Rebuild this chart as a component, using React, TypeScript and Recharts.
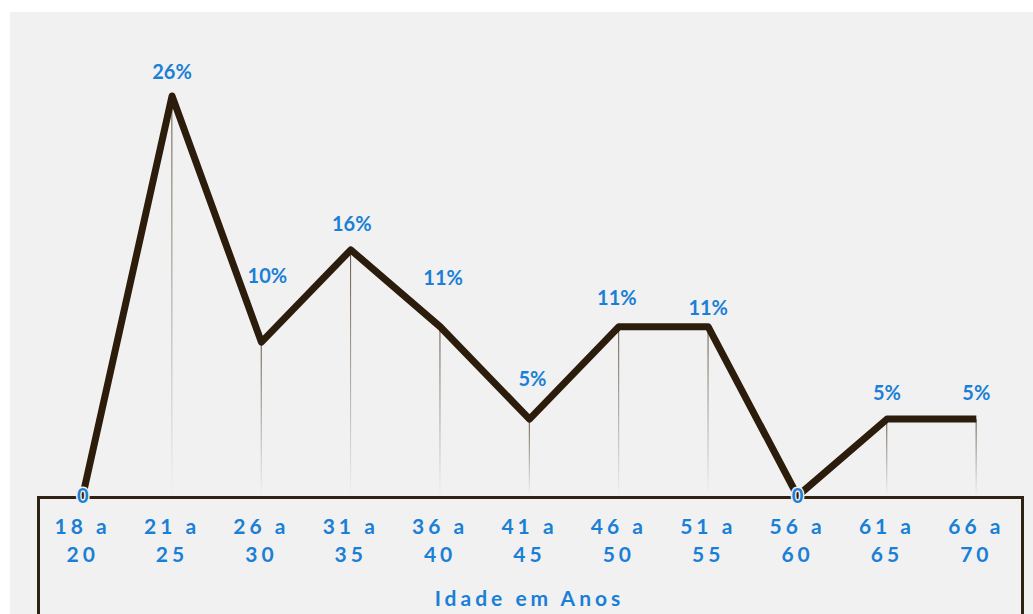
import { ComposedChart, Line, Bar, XAxis, YAxis, LabelList, Label } from "recharts";

// faixas etárias e percentuais
const faixas = ["18 a 20", "21 a 25", "26 a 30", "31 a 35", "36 a 40", "41 a 45", "46 a 50", "51 a 55", "56 a 60", "61 a 65", "66 a 70"];
const percentuais = [0, 26, 10, 16, 11, 5, 11, 11, 0, 5, 5];

// where each label sits relative to its point (px)
const labelLift = [0, 24, 66, 26, 49, 40, 29, 19, 0, 26, 26];
const labelShift = [0, 0, 6, 1, 3, 3, -2, 0, 0, 0, 0];

const BLUE = "#1a7fd6";
const BG = "#f1f1f1";
const FONT = "Lato, 'Open Sans', sans-serif";

const data = faixas.map((faixa, i) => ({ faixa, valor: percentuais[i] }));

function FaixaTick(props: any) {
  const { x, y, payload } = props;
  const [de, ate] = String(payload.value).split(" a ");
  return (
    <g>
      <text x={x} y={y + 38} textAnchor="middle" fill={BLUE} fontSize={21} fontWeight={700} fontFamily={FONT} letterSpacing={4}>
        {de} a
      </text>
      <text x={x} y={y + 66} textAnchor="middle" fill={BLUE} fontSize={21} fontWeight={700} fontFamily={FONT} letterSpacing={4}>
        {ate}
      </text>
    </g>
  );
}

function ValorLabel(props: any) {
  const { x, y, width, value, index } = props;
  const cx = x + (width || 0) / 2 + labelShift[index];
  const txt = value === 0 ? "0" : `${value}%`;
  return (
    <text
      x={cx}
      y={y - labelLift[index]}
      dy={7}
      textAnchor="middle"
      fill={BLUE}
      fontSize={20}
      fontWeight={700}
      fontFamily={FONT}
      stroke={BG}
      strokeWidth={3}
      paintOrder="stroke"
    >
      {txt}
    </text>
  );
}

export default function App() {
  return (
    <div style={{ position: "absolute", left: 10, top: 12, width: 1023, height: 602, background: BG, overflow: "hidden" }}>
      <div
        style={{
          position: "absolute",
          left: 27,
          top: 484,
          width: 981,
          height: 130,
          borderTop: "3px solid #2f2414",
          borderLeft: "3px solid #2f2414",
          borderRight: "3px solid #2f2414",
        }}
      />
      <div style={{ position: "absolute", left: 0, top: 0 }}>
        <ComposedChart width={1023} height={602} data={data} margin={{ top: 84, right: 12, bottom: 0, left: 28 }}>
          <defs>
            <linearGradient id="drop" x1="0" y1="0" x2="0" y2="1">
              <stop offset="0%" stopColor="#5e4f3e" />
              <stop offset="100%" stopColor="#f1f1f1" />
            </linearGradient>
          </defs>
          <XAxis
            dataKey="faixa"
            height={118}
            axisLine={false}
            tickLine={false}
            tickSize={0}
            tickMargin={0}
            interval={0}
            tick={<FaixaTick />}
          >
            <Label
              value="Idade em Anos"
              position="insideBottom"
              offset={8}
              fill={BLUE}
              fontSize={21}
              fontWeight={700}
              fontFamily={FONT}
              letterSpacing={4}
            />
          </XAxis>
          <YAxis hide domain={[0, 26]} />
          <Bar dataKey="valor" barSize={1} fill="url(#drop)" isAnimationActive={false} />
          <Line
            type="linear"
            dataKey="valor"
            stroke="#2b1c0b"
            strokeWidth={7}
            strokeLinejoin="round"
            dot={false}
            activeDot={false}
            isAnimationActive={false}
          >
            <LabelList dataKey="valor" content={<ValorLabel />} />
          </Line>
        </ComposedChart>
      </div>
    </div>
  );
}
